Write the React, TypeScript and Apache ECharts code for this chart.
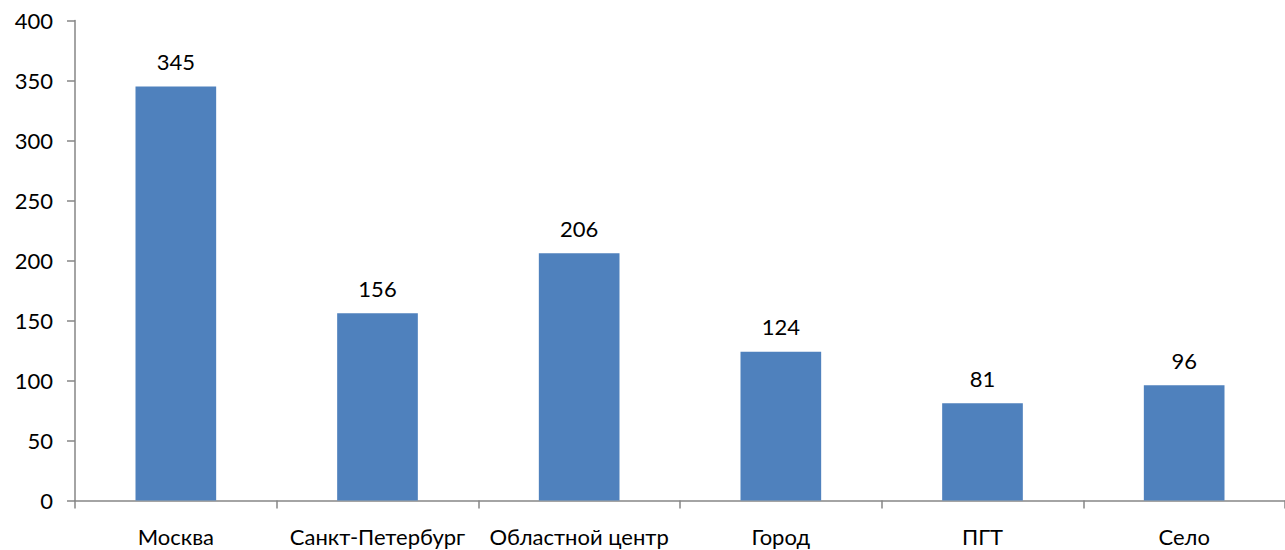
import React, { useEffect, useRef } from "react";
import * as echarts from "echarts";

const categories = ["Москва", "Санкт-Петербург", "Областной центр", "Город", "ПГТ", "Село"];
const values = [345, 156, 206, 124, 81, 96];
const yTicks = { min: 0, max: 400, interval: 50 };

export default function App() {
  const ref = useRef<HTMLDivElement>(null);
  useEffect(() => {
    const chart = echarts.init(ref.current!, null, { renderer: "svg" });
    const font = "Lato, 'Open Sans', sans-serif";
    chart.setOption({
      animation: false,
      backgroundColor: "#ffffff",
      grid: { left: 75, top: 20.5, width: 1218, height: 480, containLabel: false },
      xAxis: {
        type: "category",
        data: categories,
        axisLine: { lineStyle: { color: "#868686", width: 1.5 } },
        axisTick: { show: true, length: 8, lineStyle: { color: "#868686", width: 1.5 } },
        axisLabel: { color: "#000", fontSize: 22, fontFamily: font, margin: 25, interval: 0 },
      },
      yAxis: {
        type: "value",
        min: yTicks.min,
        max: yTicks.max,
        interval: yTicks.interval,
        axisLine: { show: true, lineStyle: { color: "#868686", width: 1.5 } },
        axisTick: { show: true, length: 8, lineStyle: { color: "#868686", width: 1.5 } },
        splitLine: { show: false },
        axisLabel: { color: "#000", fontSize: 22, fontFamily: font, margin: 22 },
      },
      series: [
        {
          type: "bar",
          data: values,
          barWidth: "40%",
          itemStyle: { color: "#4F81BD" },
          label: {
            show: true,
            position: "top",
            distance: 14,
            color: "#000",
            fontSize: 22,
            fontFamily: font,
          },
        },
      ],
    });
    return () => chart.dispose();
  }, []);
  return (
    <div
      ref={ref}
      style={{ position: "fixed", left: 0, top: 0, width: 1285, height: 550 }}
    />
  );
}
